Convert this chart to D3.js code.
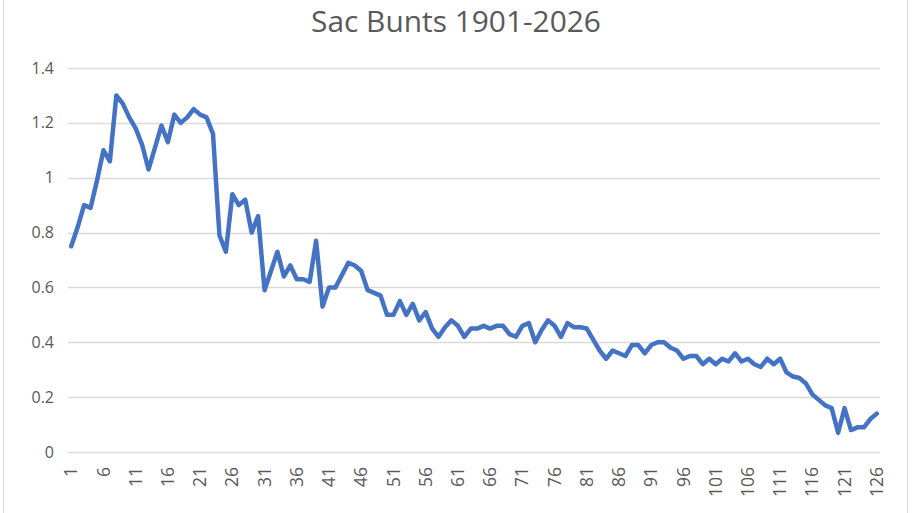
<!DOCTYPE html>
<html><head><meta charset="utf-8">
<script src="https://cdn.jsdelivr.net/npm/d3@7"></script>
<style>html,body{margin:0;padding:0;background:#fff;}svg{display:block;}</style>
</head><body>
<svg id="chart" width="912" height="513"></svg>
<script>
const title = "Sac Bunts 1901-2026";
const categories = d3.range(1, 127);
const values = [
0.75,0.82,0.90,0.89,0.99,1.10,1.06,1.30,1.27,1.22,
1.18,1.12,1.03,1.11,1.19,1.13,1.23,1.20,1.22,1.25,
1.23,1.22,1.16,0.79,0.73,0.94,0.90,0.92,0.80,0.86,
0.59,0.66,0.73,0.64,0.68,0.63,0.63,0.62,0.77,0.53,
0.60,0.60,0.645,0.69,0.68,0.66,0.59,0.58,0.57,0.50,
0.50,0.55,0.50,0.54,0.48,0.51,0.45,0.42,0.455,0.48,
0.46,0.42,0.45,0.45,0.46,0.45,0.46,0.46,0.43,0.42,
0.46,0.47,0.40,0.445,0.48,0.46,0.42,0.47,0.455,0.455,
0.45,0.41,0.37,0.34,0.37,0.36,0.35,0.39,0.39,0.36,
0.39,0.40,0.40,0.38,0.37,0.34,0.35,0.35,0.32,0.34,
0.32,0.34,0.33,0.36,0.33,0.34,0.32,0.31,0.34,0.32,
0.34,0.29,0.275,0.27,0.25,0.21,0.19,0.17,0.16,0.07,
0.16,0.08,0.09,0.09,0.12,0.14];
const xTickLabels = d3.range(1, 127, 5);
const yTicks = [0, 0.2, 0.4, 0.6, 0.8, 1, 1.2, 1.4];

const svg = d3.select("#chart");
const pLeft = 68, pRight = 880, pTop = 68, pBottom = 452;

const x = d3.scaleBand().domain(categories).range([pLeft, pRight]).paddingInner(0).paddingOuter(0);
const y = d3.scaleLinear().domain([0, 1.4]).range([pBottom, pTop]);

// frame edges
svg.append("line").attr("x1",3.5).attr("x2",3.5).attr("y1",0).attr("y2",513).attr("stroke","#d9d9d9");
svg.append("line").attr("x1",907.5).attr("x2",907.5).attr("y1",0).attr("y2",513).attr("stroke","#d9d9d9");

// gridlines
svg.append("g").selectAll("line").data(yTicks).join("line")
  .attr("x1", pLeft).attr("x2", pRight)
  .attr("y1", d => Math.round(y(d)) + 0.5).attr("y2", d => Math.round(y(d)) + 0.5)
  .attr("stroke", "#d9d9d9").attr("stroke-width", 1.3);

// y axis labels
const yAxis = d3.axisLeft(y).tickValues(yTicks).tickSize(0).tickPadding(0)
  .tickFormat(d => d3.format("")(+d.toFixed(1)));
const gy = svg.append("g").attr("transform", `translate(${pLeft - 14},0)`).call(yAxis);
gy.select(".domain").remove();
gy.selectAll("text").attr("fill", "#595959").style("font-family", "'Open Sans', sans-serif").style("font-size", "16px");

// x axis labels
const xAxis = d3.axisBottom(x).tickValues(xTickLabels).tickSize(0).tickPadding(0);
const gx = svg.append("g").attr("transform", `translate(0,${pBottom})`).call(xAxis);
gx.select(".domain").remove();
gx.selectAll("text")
  .attr("fill", "#595959").style("font-family", "'Open Sans', sans-serif").style("font-size", "17.5px")
  .attr("transform", "rotate(-90)").attr("text-anchor", "end")
  .attr("x", -15).attr("y", 0).attr("dy", "0.35em");

// line
const line = d3.line().x((d, i) => x(categories[i]) + x.bandwidth() / 2).y(d => y(d));
svg.append("path").datum(values).attr("d", line)
  .attr("fill", "none").attr("stroke", "#4472C4").attr("stroke-width", 4.5)
  .attr("stroke-linejoin", "round").attr("stroke-linecap", "round");

// title
const t = svg.append("text").attr("x", 456).attr("y", 32).attr("text-anchor", "middle")
  .attr("fill", "#595959").style("font-family", "'Open Sans', sans-serif").style("font-size", "26px")
  .text(title);
const w = t.node().getComputedTextLength();
t.style("font-size", (26 * 290 / w) + "px");
</script>
</body></html>
